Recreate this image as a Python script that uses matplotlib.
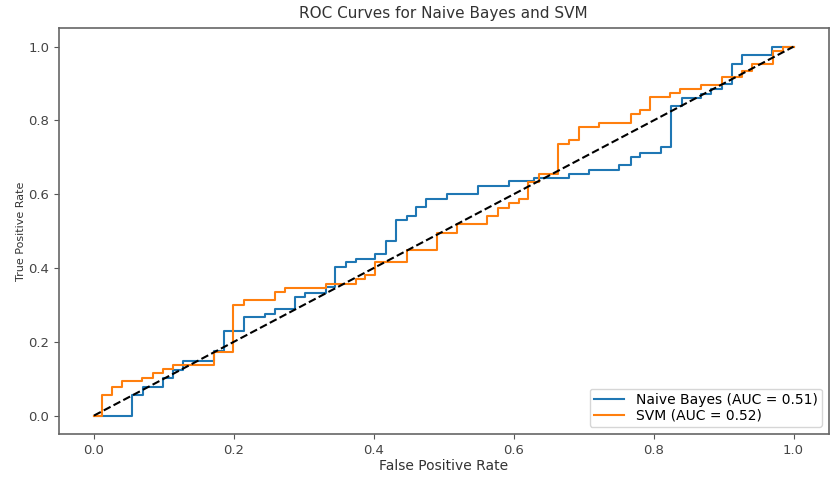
"""
ROC curves for Naive Bayes and SVM - static recreation
"""
import matplotlib
matplotlib.use('Agg')
import matplotlib.pyplot as plt

# ROC corner points (fpr, tpr)
nb_fpr = [0.0, 0.055, 0.07, 0.098, 0.113, 0.127, 0.171, 0.186, 0.214, 0.244,
          0.259, 0.288, 0.302, 0.331, 0.345, 0.36, 0.374, 0.402, 0.418, 0.432,
          0.447, 0.461, 0.475, 0.505, 0.549, 0.593, 0.629, 0.679, 0.707, 0.751,
          0.767, 0.781, 0.81, 0.825, 0.84, 0.868, 0.882, 0.898, 0.912, 0.926,
          0.969, 1.0]
nb_tpr = [0.0, 0.057, 0.078, 0.102, 0.124, 0.149, 0.174, 0.23, 0.266, 0.276,
          0.288, 0.321, 0.333, 0.348, 0.404, 0.415, 0.425, 0.437, 0.473, 0.53,
          0.541, 0.566, 0.587, 0.6, 0.622, 0.635, 0.644, 0.656, 0.667, 0.678,
          0.701, 0.713, 0.727, 0.84, 0.86, 0.872, 0.886, 0.899, 0.954, 0.978,
          1.0, 1.0]

svm_fpr = [0.0, 0.012, 0.026, 0.04, 0.069, 0.084, 0.098, 0.113, 0.171, 0.199,
           0.215, 0.259, 0.273, 0.331, 0.374, 0.388, 0.402, 0.448, 0.49, 0.519,
           0.562, 0.578, 0.593, 0.607, 0.621, 0.636, 0.664, 0.679, 0.693, 0.722,
           0.767, 0.781, 0.795, 0.824, 0.838, 0.868, 0.898, 0.926, 0.94, 0.97,
           0.985, 1.0]
svm_tpr = [0.0, 0.057, 0.078, 0.093, 0.102, 0.115, 0.126, 0.138, 0.171, 0.30,
           0.312, 0.334, 0.347, 0.356, 0.369, 0.381, 0.415, 0.449, 0.495, 0.519,
           0.54, 0.563, 0.575, 0.587, 0.633, 0.656, 0.737, 0.748, 0.782, 0.793,
           0.818, 0.829, 0.863, 0.874, 0.884, 0.896, 0.919, 0.933, 0.953, 0.989,
           1.0, 1.0]

nb_auc = 0.51
svm_auc = 0.52

fig = plt.figure(figsize=(8.31, 4.78), dpi=100)
ax = fig.add_axes([0.071, 0.092, 0.926, 0.849])

ax.plot(nb_fpr, nb_tpr, drawstyle='steps-post', color='#1f77b4',
        label=f'Naive Bayes (AUC = {nb_auc:.2f})')
ax.plot(svm_fpr, svm_tpr, drawstyle='steps-post', color='#ff7f0e',
        label=f'SVM (AUC = {svm_auc:.2f})')
ax.plot([0, 1], [0, 1], 'k--')

ax.set_title('ROC Curves for Naive Bayes and SVM', fontsize=11, color='#333333',
             pad=7)
ax.set_xlabel('False Positive Rate', fontsize=10, color='#333333', labelpad=1.5)
ax.set_ylabel('True Positive Rate', fontsize=8, color='#333333', labelpad=2)
ax.tick_params(colors='#555555', labelcolor='#444444', labelsize=9.5)
for s in ax.spines.values():
    s.set_color('#666666')
    s.set_linewidth(1.2)

ax.legend(loc='lower right', fontsize=10, labelspacing=0.15, borderpad=0.3,
          handlelength=2.2)

plt.savefig('out.png', dpi=100)
